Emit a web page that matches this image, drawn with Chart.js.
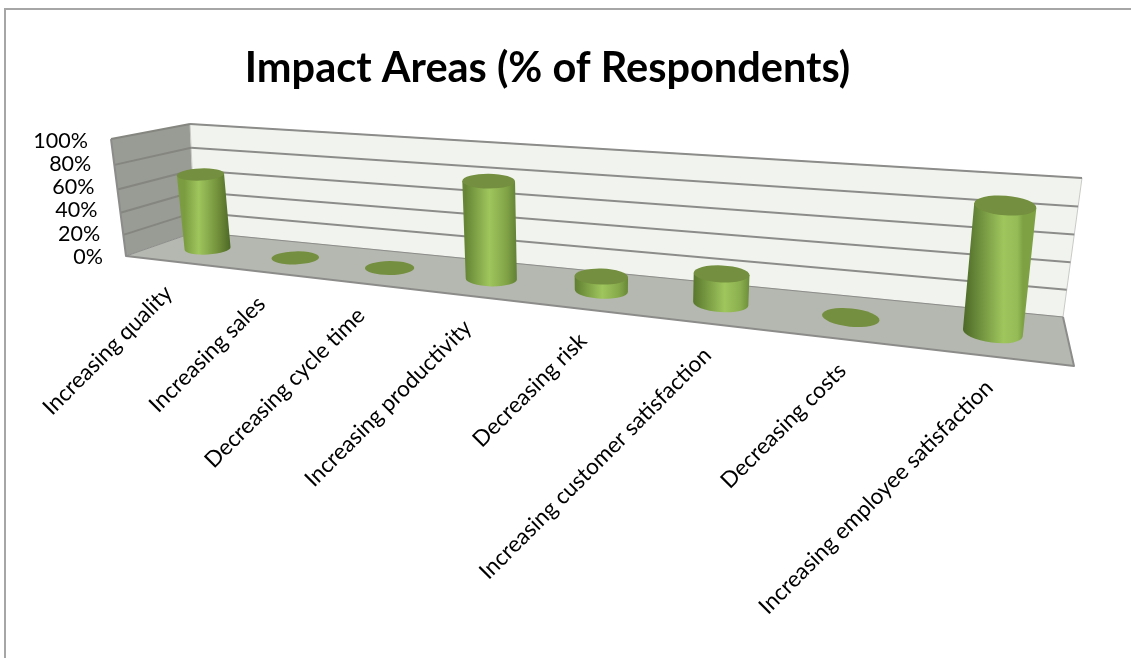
<!DOCTYPE html>
<html>
<head>
<meta charset="utf-8">
<style>
  html, body { margin: 0; background: #fff; }
  #wrap { position: relative; width: 1131px; height: 658px; }
</style>
<script src="https://cdn.jsdelivr.net/npm/chart.js@4"></script>
</head>
<body>
<div id="wrap"><canvas id="impactChart"></canvas></div>
<script>
const categories = [
  "Increasing quality",
  "Increasing sales",
  "Decreasing cycle time",
  "Increasing productivity",
  "Decreasing risk",
  "Increasing customer satisfaction",
  "Decreasing costs",
  "Increasing employee satisfaction",
];
const respondents = [65, 0, 0, 77, 11, 22, 0, 85];
const tickStep = 20;
const chartTitle = "Impact Areas (% of Respondents)";

// unit square -> quad, used for the fake 3d box
function plane(p0, p1, p2, p3) {
  const dx1 = p1[0] - p2[0], dx2 = p3[0] - p2[0], sx = p0[0] - p1[0] + p2[0] - p3[0];
  const dy1 = p1[1] - p2[1], dy2 = p3[1] - p2[1], sy = p0[1] - p1[1] + p2[1] - p3[1];
  const den = dx1 * dy2 - dx2 * dy1;
  const g = (sx * dy2 - dx2 * sy) / den;
  const h = (dx1 * sy - sx * dy1) / den;
  const a = p1[0] - p0[0] + g * p1[0], b = p3[0] - p0[0] + h * p3[0];
  const d = p1[1] - p0[1] + g * p1[1], e = p3[1] - p0[1] + h * p3[1];
  return (u, v) => {
    const w = g * u + h * v + 1;
    return { x: (a * u + b * v + p0[0]) / w, y: (d * u + e * v + p0[1]) / w };
  };
}

const frontLeft = [126, 256], frontRight = [1074, 366];
const backLeft = [195, 232], backRight = [1063, 317];
const wallTopLeft = [190, 124], wallTopRight = [1082, 178], sideTopFront = [111, 139];

const floor = plane(frontLeft, frontRight, backRight, backLeft);
const backWall = plane(backLeft, backRight, wallTopRight, wallTopLeft);
const sideWall = plane(frontLeft, backLeft, wallTopLeft, sideTopFront);
const midPlane = plane([166, 244], [1069, 341], [1087, 187], [154, 131]);

function poly(ctx, pts, fill, stroke, width) {
  ctx.beginPath();
  pts.forEach((p, i) => (i ? ctx.lineTo(p.x, p.y) : ctx.moveTo(p.x, p.y)));
  ctx.closePath();
  if (fill) { ctx.fillStyle = fill; ctx.fill(); }
  if (stroke) { ctx.strokeStyle = stroke; ctx.lineWidth = width; ctx.stroke(); }
}

function mix(a, b, k) {
  const c = a.map((v, i) => Math.round(v + (b[i] - v) * k));
  return `rgb(${c[0]},${c[1]},${c[2]})`;
}

function unit(chart, px, py) {
  const area = chart.chartArea;
  return { t: (px - area.left) / area.width, v: (area.bottom - py) / area.height };
}

// moves the library's tick labels onto the slanted edges
function moveLabels(scale, fn) {
  if (scale.labelsMoved) return;
  scale.labelsMoved = true;
  const own = scale.getLabelItems.bind(scale);
  scale.getLabelItems = (area) =>
    own(area).map((item) => ({
      ...item,
      options: { ...item.options, translation: fn(item.options.translation) },
    }));
}

const box3d = {
  id: "box3d",
  afterLayout(chart) {
    moveLabels(chart.scales.x, ([x]) => {
      const t = unit(chart, x, 0).t;
      const px = midPlane(t, 0).x - 34 + 38 * t;
      return [px - 10.5 + 8 * t, 256 + 0.116 * (px - 126) + 19];
    });
    moveLabels(chart.scales.y, ([x, y]) => {
      const p = sideWall(0, unit(chart, 0, y).v);
      return [p.x - 23, y + 1];
    });
  },
  beforeDraw(chart) {
    const ctx = chart.ctx;
    ctx.save();
    ctx.strokeStyle = "#a6a6a6";
    ctx.lineWidth = 2;
    ctx.beginPath();
    ctx.moveTo(5, 658);
    ctx.lineTo(5, 9);
    ctx.lineTo(1131, 9);
    ctx.stroke();
    ctx.restore();
  },
  beforeDatasetsDraw(chart) {
    const ctx = chart.ctx, y = chart.scales.y;
    ctx.save();
    ctx.lineJoin = "round";
    poly(ctx, [sideWall(0, 0), sideWall(1, 0), sideWall(1, 1), sideWall(0, 1)], "#999b95");
    poly(ctx, [backWall(0, 0), backWall(1, 0), backWall(1, 1), backWall(0, 1)], "#f1f4ee", "#c9cac6", 1);
    poly(ctx, [floor(0, 0), floor(1, 0), floor(1, 1), floor(0, 1)], "#b5b8b0");

    y.ticks.forEach((tick, i) => {
      const v = unit(chart, 0, y.getPixelForTick(i)).v;
      if (v < 0.001) return;
      const a = sideWall(0, v), b = sideWall(1, v), c = backWall(1, v);
      ctx.lineWidth = 2;
      ctx.strokeStyle = "#84867f";
      ctx.beginPath();
      ctx.moveTo(a.x, a.y);
      ctx.lineTo(b.x, b.y);
      ctx.stroke();
      ctx.strokeStyle = "#8c8d8a";
      ctx.beginPath();
      ctx.moveTo(b.x, b.y);
      ctx.lineTo(c.x, c.y);
      ctx.stroke();
    });

    // floor and wall edges
    ctx.strokeStyle = "#8c8d8a";
    ctx.lineWidth = 2;
    ctx.beginPath();
    ctx.moveTo(sideTopFront[0], sideTopFront[1]);
    ctx.lineTo(frontLeft[0], frontLeft[1]);
    ctx.lineTo(frontRight[0], frontRight[1]);
    ctx.lineTo(backRight[0], backRight[1]);
    ctx.stroke();
    ctx.lineWidth = 1;
    ctx.beginPath();
    ctx.moveTo(frontLeft[0], frontLeft[1]);
    ctx.lineTo(backLeft[0], backLeft[1]);
    ctx.lineTo(backRight[0], backRight[1]);
    ctx.stroke();
    ctx.restore();
  },
  afterDatasetsDraw(chart) {
    const ctx = chart.ctx;
    ctx.save();
    chart.getDatasetMeta(0).data.forEach((bar) => {
      const { t, v } = unit(chart, bar.x, bar.y);
      const base = midPlane(t, 0), top = midPlane(t, v);
      const span = midPlane(t, 1).y - base.y;
      const size = Math.abs(span) * 0.2;
      const rx = size, ry = size * (0.26 + 0.07 * t);
      const rad = Math.PI / 180;
      const tiltBase = (-4 + 12 * t) * rad;
      const tiltTop = v > 0.001 ? (-3 + 8 * t) * rad : tiltBase;
      const rxTop = rx * (1 + 0.04 * v);

      if (v > 0.001) {
        const cos = Math.cos(tiltTop), sin = Math.sin(tiltTop);
        const grad = ctx.createLinearGradient(base.x - rx, 0, base.x + rx, 0);
        grad.addColorStop(0, mix([126, 160, 66], [72, 100, 36], t));
        grad.addColorStop(0.28 + 0.42 * t, "#9fc65d");
        grad.addColorStop(0.72 + 0.2 * t, mix([110, 140, 56], [150, 190, 88], t));
        grad.addColorStop(1, mix([72, 100, 36], [130, 165, 70], t));
        ctx.beginPath();
        ctx.moveTo(top.x - rxTop * cos, top.y - rxTop * sin);
        ctx.ellipse(base.x, base.y, rx, ry, tiltBase, Math.PI, 0, true);
        ctx.lineTo(top.x + rxTop * cos, top.y + rxTop * sin);
        ctx.closePath();
        ctx.fillStyle = grad;
        ctx.fill();
      }
      ctx.beginPath();
      ctx.ellipse(top.x, top.y, rxTop, ry, tiltTop, 0, Math.PI * 2);
      ctx.fillStyle = "#748f3f";
      ctx.fill();
    });
    ctx.restore();
  },
};

new Chart(document.getElementById("impactChart"), {
  type: "bar",
  data: {
    labels: categories,
    datasets: [{ data: respondents, backgroundColor: "transparent", borderWidth: 0 }],
  },
  plugins: [box3d],
  options: {
    responsive: true,
    maintainAspectRatio: false,
    animation: false,
    layout: { padding: { right: 36 } },
    plugins: {
      legend: { display: false },
      tooltip: { enabled: false },
      title: {
        display: true,
        text: chartTitle,
        color: "#000",
        font: { family: "Lato", size: 41.5, weight: "bold", lineHeight: 1.2 },
        padding: { top: 44, bottom: 46 },
      },
    },
    scales: {
      x: {
        grid: { display: false },
        border: { display: false },
        afterFit: (scale) => { scale.height = 402; },
        ticks: {
          color: "#000",
          autoSkip: false,
          maxRotation: 45,
          minRotation: 45,
          font: { family: "Lato", size: 22.5 },
        },
      },
      y: {
        min: 0,
        max: 100,
        grid: { display: false },
        border: { display: false },
        afterFit: (scale) => { scale.width = 105; },
        ticks: {
          color: "#000",
          autoSkip: false,
          stepSize: tickStep,
          font: { family: "Lato", size: 21.5 },
          callback: (value) => value + "%",
        },
      },
    },
  },
});
</script>
</body>
</html>
